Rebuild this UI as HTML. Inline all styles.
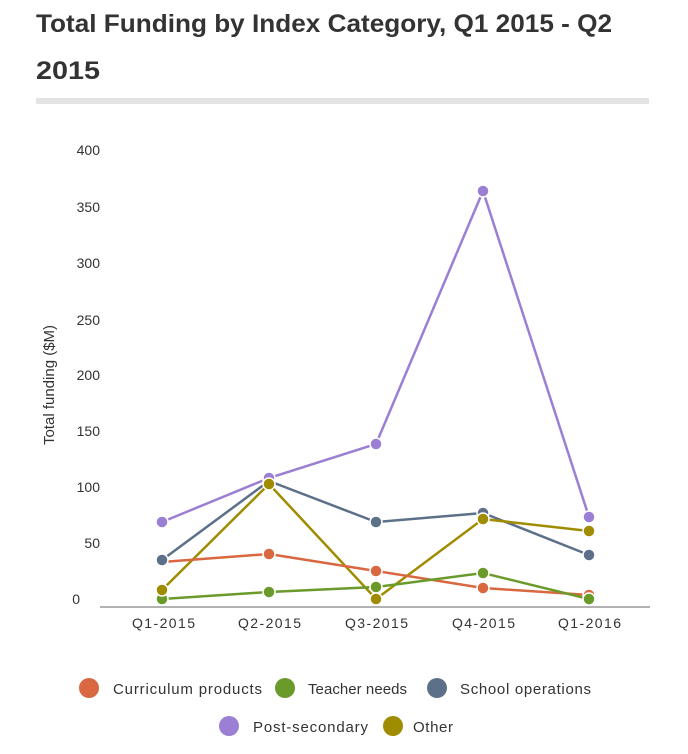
<!DOCTYPE html>
<html><head><style>
body{margin:0;background:#fff;width:688px;height:749px;overflow:hidden;font-family:"Liberation Sans",sans-serif}
</style></head><body>
<svg width="688" height="749" xmlns="http://www.w3.org/2000/svg" font-family="Liberation Sans, sans-serif">
<text x="36" y="32" font-size="25" font-weight="bold" fill="#333" textLength="576" lengthAdjust="spacingAndGlyphs">Total Funding by Index Category, Q1 2015 - Q2</text>
<text x="36" y="79" font-size="25" font-weight="bold" fill="#333" textLength="64" lengthAdjust="spacingAndGlyphs">2015</text>
<rect x="36" y="98" width="613" height="6" fill="#e3e3e3"/>
<g font-size="14" fill="#333" text-anchor="end">
<text x="100" y="155">400</text><text x="100" y="212">350</text><text x="100" y="268">300</text>
<text x="100" y="325">250</text><text x="100" y="380">200</text><text x="100" y="436">150</text>
<text x="100" y="492">100</text><text x="100" y="548">50</text><text x="80" y="604">0</text>
</g>
<text transform="translate(54,385) rotate(-90)" font-size="15" fill="#333" text-anchor="middle">Total funding ($M)</text>
<line x1="100" y1="607" x2="650" y2="607" stroke="#999" stroke-width="1.5"/>
<g font-size="14" fill="#333">
<text x="132" y="628" textLength="63">Q1-2015</text><text x="238" y="628" textLength="63">Q2-2015</text><text x="345" y="628" textLength="63">Q3-2015</text>
<text x="452" y="628" textLength="63">Q4-2015</text><text x="558" y="628" textLength="63">Q1-2016</text>
</g>
<g fill="none" stroke-width="2.5">
<polyline stroke="#9b7fd4" points="162,522 269,478 376,444 483,191 589,517"/>
<polyline stroke="#5d7089" points="162,560 269,481 376,522 483,513 589,555"/>
<polyline stroke="#a08c00" points="162,590 269,484 376,599 483,519 589,531"/>
<polyline stroke="#d9673f" points="162,562 269,554 376,571 483,588 589,595"/>
<polyline stroke="#6a9a2a" points="162,599 269,592 376,587 483,573 589,599"/>
</g>
<g stroke="#fff" stroke-width="1.5">
<g fill="#d9673f"><circle cx="269" cy="554" r="6"/><circle cx="376" cy="571" r="6"/><circle cx="483" cy="588" r="6"/><circle cx="589" cy="595" r="6"/></g>
<g fill="#6a9a2a"><circle cx="162" cy="599" r="6"/><circle cx="269" cy="592" r="6"/><circle cx="376" cy="587" r="6"/><circle cx="483" cy="573" r="6"/><circle cx="589" cy="599" r="6"/></g>
<g fill="#5d7089"><circle cx="162" cy="560" r="6"/><circle cx="269" cy="481" r="6"/><circle cx="376" cy="522" r="6"/><circle cx="483" cy="513" r="6"/><circle cx="589" cy="555" r="6"/></g>
<g fill="#9b7fd4"><circle cx="162" cy="522" r="6"/><circle cx="269" cy="478" r="6"/><circle cx="376" cy="444" r="6"/><circle cx="483" cy="191" r="6"/><circle cx="589" cy="517" r="6"/></g>
<g fill="#a08c00"><circle cx="162" cy="590" r="6"/><circle cx="269" cy="484" r="6"/><circle cx="376" cy="599" r="6"/><circle cx="483" cy="519" r="6"/><circle cx="589" cy="531" r="6"/></g>
</g>
<g font-size="15" fill="#333">
<circle cx="89" cy="688" r="10" fill="#d9673f"/><text x="113" y="694" textLength="149">Curriculum products</text>
<circle cx="285" cy="688" r="10" fill="#6a9a2a"/><text x="308" y="694" textLength="99">Teacher needs</text>
<circle cx="437" cy="688" r="10" fill="#5d7089"/><text x="460" y="694" textLength="131">School operations</text>
<circle cx="229" cy="726" r="10" fill="#9b7fd4"/><text x="253" y="732" textLength="115">Post-secondary</text>
<circle cx="393" cy="726" r="10" fill="#a08c00"/><text x="413" y="732" textLength="40">Other</text>
</g>
</svg>
</body></html>
